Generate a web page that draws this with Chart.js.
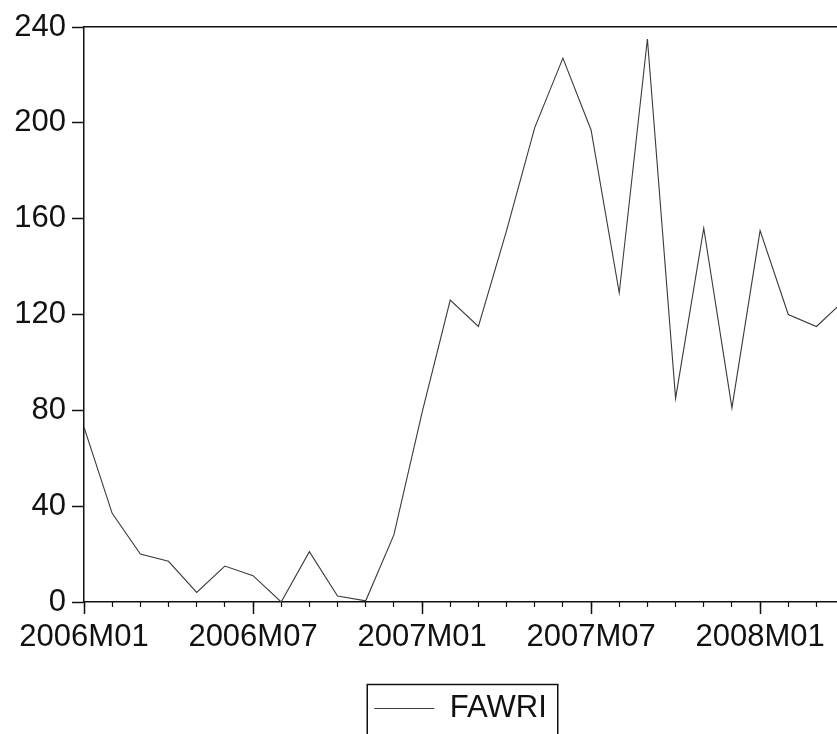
<!DOCTYPE html>
<html>
<head>
<meta charset="utf-8">
<script src="https://cdn.jsdelivr.net/npm/chart.js@4"></script>
<style>
  html, body { margin: 0; padding: 0; background: #fff; }
  #wrap { width: 837px; height: 734px; position: relative; }
</style>
</head>
<body>
<div id="wrap"><canvas id="c"></canvas></div>
<script>
// ---- data ----
const months = [
  '2006M01','2006M02','2006M03','2006M04','2006M05','2006M06',
  '2006M07','2006M08','2006M09','2006M10','2006M11','2006M12',
  '2007M01','2007M02','2007M03','2007M04','2007M05','2007M06',
  '2007M07','2007M08','2007M09','2007M10','2007M11','2007M12',
  '2008M01','2008M02','2008M03','2008M04'
];
const fawri = [
  73, 37, 20, 17, 4, 15,
  11, 0, 21, 2.5, 0.5, 28,
  79, 126, 115, 155, 198, 227,
  197, 129, 235, 85, 156, 81,
  155, 120, 115, 126
];
const yTicks = [0, 40, 80, 120, 160, 200, 240];
const seriesName = 'FAWRI';

// visible x range (the reference is cropped on the right)
const xMin = 0;
const xMax = 26.73;

const FONT = "'Liberation Sans', Arial, sans-serif";
const INK = '#111';

const legendFrame = {
  id: 'legendFrame',
  afterDraw(chart) {
    const lg = chart.legend;
    if (!lg || !lg.legendHitBoxes || !lg.legendHitBoxes.length) return;
    const b = lg.legendHitBoxes[0];
    const ctx = chart.ctx;
    const cy = b.top + b.height / 2;
    ctx.save();
    ctx.strokeStyle = INK;
    ctx.lineWidth = 1.5;
    ctx.strokeRect(b.left - 7, cy - 24, b.width + 18, 60);
    ctx.restore();
  }
};

new Chart(document.getElementById('c'), {
  type: 'line',
  data: {
    datasets: [{
      label: seriesName,
      data: fawri.map((v, i) => ({ x: i, y: v })),
      borderColor: '#3a3a3a',
      backgroundColor: '#3a3a3a',
      borderWidth: 1.1,
      pointRadius: 0,
      tension: 0,
      fill: false
    }]
  },
  options: {
    responsive: true,
    maintainAspectRatio: false,
    animation: false,
    layout: { padding: { top: 27, left: 0, right: 0, bottom: 0 } },
    plugins: {
      tooltip: { enabled: false },
      legend: {
        position: 'bottom',
        fullSize: false,
        labels: {
          usePointStyle: true,
          pointStyle: 'line',
          pointStyleWidth: 60,
          boxHeight: 30,
          color: INK,
          padding: 1,
          font: { family: FONT, size: 31 }
        }
      }
    },
    scales: {
      xTop: {
        type: 'linear', position: 'top', min: xMin, max: xMax,
        ticks: { display: false },
        grid: { display: true, drawOnChartArea: false, drawTicks: false },
        border: { display: true, color: INK, width: 1.5 },
        afterFit(s) { s.height = 0; }
      },
      xMinor: {
        type: 'linear', position: 'bottom', weight: 0, min: xMin, max: xMax,
        ticks: { display: false, stepSize: 1, includeBounds: false },
        grid: { drawOnChartArea: false, drawTicks: true, tickLength: 5, color: INK, tickWidth: 1.2 },
        border: { display: false },
        afterFit(s) { s.height = 0; }
      },
      x: {
        type: 'linear', position: 'bottom', weight: 1, min: xMin, max: xMax,
        ticks: {
          stepSize: 6, includeBounds: false, autoSkip: false, maxRotation: 0,
          padding: 5, color: INK,
          font: { family: FONT, size: 31 },
          callback: (v) => months[v] || ''
        },
        grid: { drawOnChartArea: false, drawTicks: true, tickLength: 12, color: INK, tickWidth: 1.5 },
        border: { display: true, color: INK, width: 1.5 },
        afterFit(s) { s.height = 90; }
      },
      y: {
        type: 'linear', position: 'left', min: 0, max: 240,
        afterBuildTicks(s) { s.ticks = yTicks.map(v => ({ value: v })); },
        ticks: { padding: 6, color: INK, font: { family: FONT, size: 31 } },
        grid: { drawOnChartArea: false, drawTicks: true, tickLength: 12, color: INK, tickWidth: 1.5 },
        border: { display: true, color: INK, width: 1.5 },
        afterFit(s) { s.width = 84; }
      }
    }
  },
  plugins: [legendFrame]
});
</script>
</body>
</html>
